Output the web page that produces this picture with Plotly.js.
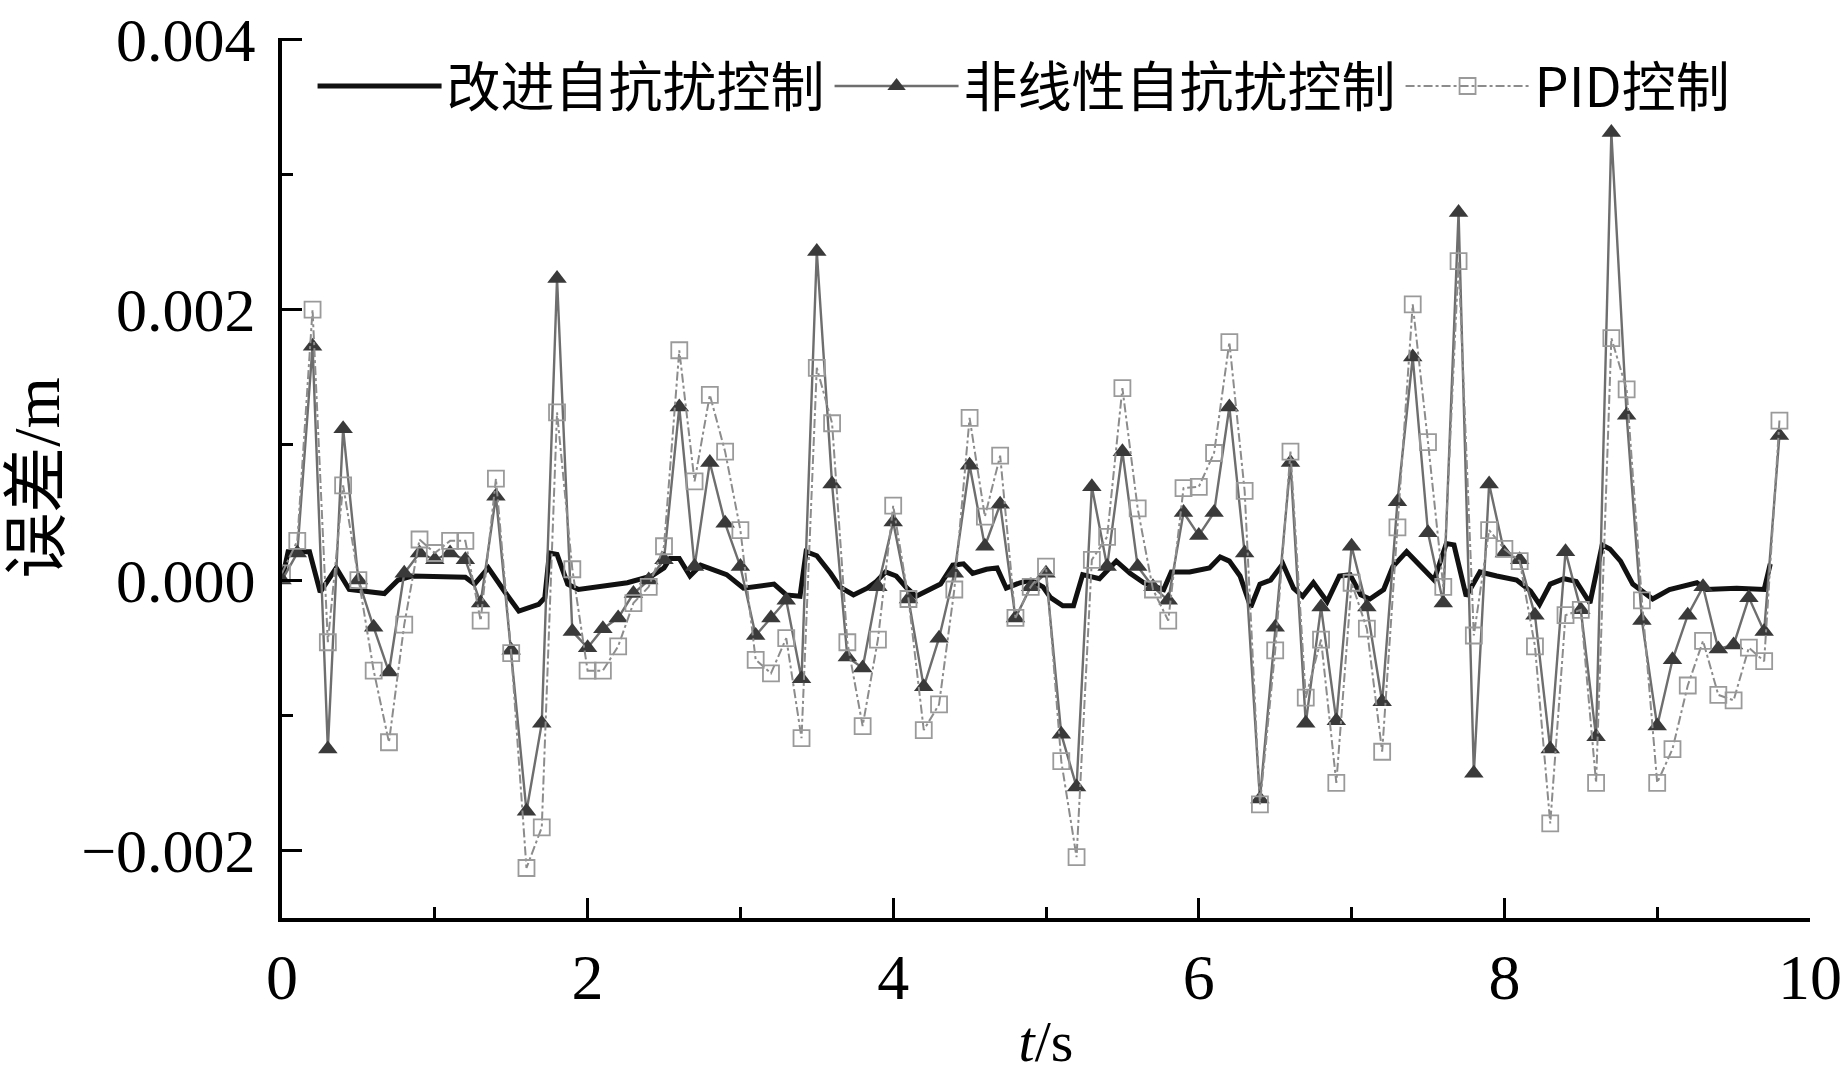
<!DOCTYPE html>
<html>
<head>
<meta charset="utf-8">
<script src="https://cdn.plot.ly/plotly-3.0.1.min.js"></script>
<style>html,body{margin:0;padding:0;background:#fff;}#chart{width:1843px;height:1078px;}</style>
</head>
<body>
<div id="chart"></div>
<script>
// Series names (legend)
const seriesNames = ["改进自抗扰控制", "非线性自抗扰控制", "PID控制"];

// Improved ADRC (black thick line), own time samples, error in m
const tImproved = [0.0,0.04,0.18,0.25,0.355,0.44,0.67,0.76,0.85,1.2,1.26,1.35,1.46,1.55,1.68,1.72,1.75,1.80,1.87,1.94,
  2.26,2.42,2.50,2.54,2.60,2.67,2.74,2.91,3.02,3.22,3.30,3.39,3.43,3.50,3.59,3.65,3.74,3.83,3.89,3.95,
  4.02,4.09,4.15,4.31,4.39,4.46,4.52,4.61,4.68,4.74,4.83,4.90,4.98,5.03,5.11,5.18,5.24,5.35,5.46,5.55,
  5.64,5.77,5.82,5.94,6.07,6.14,6.20,6.27,6.34,6.40,6.47,6.55,6.62,6.68,6.75,6.84,6.92,6.99,7.06,7.12,
  7.21,7.27,7.36,7.45,7.54,7.62,7.67,7.75,7.84,7.95,8.08,8.17,8.23,8.30,8.39,8.47,8.56,8.64,8.69,8.76,
  8.84,8.97,9.08,9.26,9.32,9.52,9.67,9.70,9.74];
const eImproved = [0.0,0.00021,0.00021,-0.00009,0.00009,-0.00007,-0.0001,0.0,0.00003,0.00002,-0.00003,0.00009,-0.00009,-0.00023,-0.00018,-0.00013,0.0002,0.00019,-0.00003,-0.00007,
  -0.00002,0.00003,0.00009,0.00016,0.00016,0.00003,0.00011,0.00004,-0.00006,-0.00003,-0.00011,-0.00012,0.00021,0.00018,0.00005,-0.00005,-0.00011,-0.00006,-0.00001,0.00006,
  0.00003,-0.00006,-0.00012,-0.00003,0.00011,0.00012,0.00005,0.00008,0.00009,-0.00006,-0.00002,0.0,-0.00005,-0.00013,-0.00019,-0.00019,0.00004,0.00001,0.00014,0.00005,
  -0.00002,-0.00007,0.00006,0.00006,0.00009,0.00017,0.00014,0.00003,-0.0002,-0.00003,0.0,0.00012,-0.00006,-0.00012,-0.00002,-0.00016,0.00003,0.00004,-0.00011,-0.00014,
  -0.00007,0.0001,0.00021,0.00011,0.0,0.00027,0.00026,-0.00012,0.00006,0.00003,0.0,-0.00008,-0.00018,-0.00003,0.00001,-0.00001,-0.00017,0.00026,0.00023,0.00014,
  -0.00003,-0.00014,-0.00007,-0.00002,-0.00007,-0.00006,-0.00007,-0.00007,0.00012];

// Common time samples for nonlinear ADRC and PID (s)
const tSamples = [0.0,0.1,0.2,0.3,0.4,0.5,0.6,0.7,0.8,0.9,1.0,1.1,1.2,1.3,1.4,1.5,1.6,1.7,1.8,1.9,
  2.0,2.1,2.2,2.3,2.4,2.5,2.6,2.7,2.8,2.9,3.0,3.1,3.2,3.3,3.4,3.5,3.6,3.7,3.8,3.9,
  4.0,4.1,4.2,4.3,4.4,4.5,4.6,4.7,4.8,4.9,5.0,5.1,5.2,5.3,5.4,5.5,5.6,5.7,5.8,5.9,
  6.0,6.1,6.2,6.3,6.4,6.5,6.6,6.7,6.8,6.9,7.0,7.1,7.2,7.3,7.4,7.5,7.6,7.7,7.8,7.9,
  8.0,8.1,8.2,8.3,8.4,8.5,8.6,8.7,8.8,8.9,9.0,9.1,9.2,9.3,9.4,9.5,9.6,9.7,9.8];

// Nonlinear ADRC error (m)
const eNonlinear = [0.0,0.0002,0.00173,-0.00125,0.00112,0.0,-0.00035,-0.00068,0.00005,0.0002,
  0.00015,0.0002,0.00015,-0.00017,0.00062,-0.00052,-0.00171,-0.00106,0.00223,-0.00038,
  -0.0005,-0.00036,-0.00028,-0.0001,0.0,0.00015,0.00128,0.0001,0.00087,0.00042,
  0.0001,-0.00041,-0.00028,-0.00015,-0.00073,0.00243,0.00071,-0.00057,-0.00065,-0.00005,
  0.00043,-0.00014,-0.00079,-0.00043,0.00005,0.00085,0.00025,0.00056,-0.00028,-0.00005,
  0.00005,-0.00114,-0.00153,0.00069,0.0001,0.00095,0.0001,-0.00005,-0.00015,0.0005,
  0.00033,0.0005,0.00128,0.0002,-0.00162,-0.00035,0.00087,-0.00106,-0.0002,-0.00104,
  0.00025,-0.0002,-0.0009,0.00058,0.00165,0.00035,-0.00017,0.00272,-0.00143,0.00071,
  0.0002,0.00015,-0.00026,-0.00125,0.00021,-0.00022,-0.00116,0.00331,0.00122,-0.0003,
  -0.00108,-0.00059,-0.00026,-0.00005,-0.00051,-0.00048,-0.00013,-0.00038,0.00107];

// PID error (m)
const ePID = [0.00005,0.00029,0.002,-0.00046,0.0007,0.0,-0.00067,-0.0012,-0.00033,0.0003,
  0.0002,0.00029,0.00029,-0.0003,0.00075,-0.00054,-0.00213,-0.00183,0.00124,0.00008,
  -0.00067,-0.00067,-0.00049,-0.00017,-0.00005,0.00025,0.0017,0.00073,0.00137,0.00095,
  0.00037,-0.00059,-0.00069,-0.00043,-0.00117,0.00157,0.00116,-0.00046,-0.00108,-0.00044,
  0.00055,-0.00014,-0.00111,-0.00092,-0.00007,0.0012,0.00047,0.00092,-0.00028,-0.00005,
  0.0001,-0.00134,-0.00205,0.00015,0.00032,0.00142,0.00053,-0.00007,-0.0003,0.00068,
  0.00069,0.00094,0.00176,0.00066,-0.00166,-0.00052,0.00095,-0.00087,-0.00044,-0.0015,
  -0.00002,-0.00036,-0.00127,0.00039,0.00204,0.00102,-0.00005,0.00236,-0.00041,0.00037,
  0.00023,0.00014,-0.00049,-0.0018,-0.00026,-0.00022,-0.0015,0.00179,0.00141,-0.00015,
  -0.0015,-0.00125,-0.00078,-0.00045,-0.00085,-0.00089,-0.0005,-0.0006,0.00118];

// Axis ticks
const xTicks = [0, 2, 4, 6, 8, 10];
const yTicks = [-0.002, 0.0, 0.002, 0.004];
const yTickText = ["\u22120.002", "0.000", "0.002", "0.004"];

const serif = "Liberation Serif, Times New Roman, Noto Sans CJK SC, serif";

const traces = [
  {
    x: tImproved, y: eImproved, name: seriesNames[0], type: "scatter", mode: "lines",
    line: {color: "#111111", width: 5}
  },
  {
    x: tSamples, y: eNonlinear, name: seriesNames[1], type: "scatter", mode: "lines+markers",
    line: {color: "#6e6e6e", width: 2.4},
    marker: {symbol: "triangle-up", size: 17, color: "#3a3a3a", line: {width: 0}}
  },
  {
    x: tSamples, y: ePID, name: seriesNames[2], type: "scatter", mode: "lines+markers",
    line: {color: "#8c8c8c", width: 2, dash: "dashdot"},
    marker: {symbol: "square-open", size: 16, color: "#9a9a9a", line: {width: 1.8}}
  }
];

const layout = {
  width: 1843, height: 1078,
  margin: {l: 282, r: 33, t: 38, b: 160},
  paper_bgcolor: "#ffffff", plot_bgcolor: "#ffffff",
  showlegend: true,
  legend: {
    orientation: "h", x: 0.02, y: 0.945, xanchor: "left", yanchor: "middle",
    font: {family: "Noto Sans CJK SC, Liberation Serif", size: 54, color: "#000"},
    bgcolor: "rgba(255,255,255,0)", itemwidth: 124, traceorder: "normal"
  },
  xaxis: {
    range: [0, 10], tickvals: xTicks, ticktext: xTicks.map(String),
    showline: true, linecolor: "#000", linewidth: 4, mirror: false,
    ticks: "inside", ticklen: 20, tickwidth: 3, tickcolor: "#000",
    minor: {dtick: 1, ticks: "inside", ticklen: 11, tickwidth: 3, tickcolor: "#000", showgrid: false},
    showgrid: false, zeroline: false,
    tickfont: {family: serif, size: 64, color: "#000"},
    ticklabelstandoff: 0, ticklabeloverflow: "allow",
    title: {text: "<i>t</i>/s", font: {family: serif, size: 58, color: "#000"}, standoff: 10},
    automargin: false
  },
  yaxis: {
    range: [-0.0025, 0.00401], tickvals: yTicks, ticktext: yTickText,
    showline: true, linecolor: "#000", linewidth: 4, mirror: false,
    ticks: "inside", ticklen: 20, tickwidth: 3, tickcolor: "#000",
    minor: {dtick: 0.001, ticks: "inside", ticklen: 11, tickwidth: 3, tickcolor: "#000", showgrid: false},
    showgrid: false, zeroline: false,
    tickfont: {family: serif, size: 62, color: "#000"},
    ticklabelstandoff: 10, ticklabeloverflow: "allow",
    title: {text: "误差/m", font: {family: serif, size: 66, color: "#000"}, standoff: 22},
    automargin: false
  }
};

Plotly.newPlot("chart", traces, layout, {displayModeBar: false, staticPlot: true});
</script>
</body>
</html>
